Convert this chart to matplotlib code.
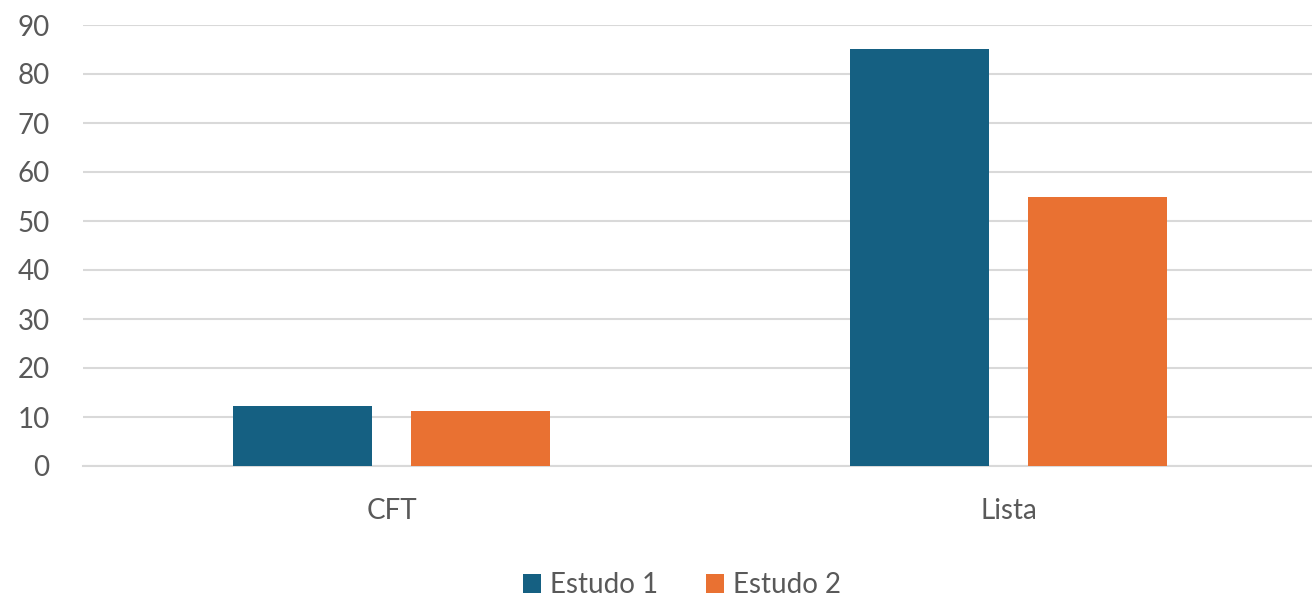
import matplotlib.pyplot as plt
import numpy as np

categories = ['CFT', 'Lista']
series_names = ['Estudo 1', 'Estudo 2']
estudo1 = [12.3, 85.2]
estudo2 = [11.3, 55.0]
yticks = [0, 10, 20, 30, 40, 50, 60, 70, 80, 90]

plt.rcParams['font.family'] = ['Lato', 'DejaVu Sans']
text_color = '#595959'
grid_color = '#d9d9d9'

fig = plt.figure(figsize=(13.12, 5.99), dpi=100)
ax = fig.add_axes([83 / 1312, 1 - 466 / 599, (1317 - 83) / 1312, (466 - 25) / 599])

x = np.arange(len(categories))
width = 0.226
offset = 0.144
ax.bar(x - offset, estudo1, width, color='#156082', label=series_names[0], zorder=3)
ax.bar(x + offset, estudo2, width, color='#E97132', label=series_names[1], zorder=3)

ax.set_xlim(-0.5, 1.5)
ax.set_ylim(0, 90)
ax.set_yticks(yticks)
ax.set_xticks(x)
ax.set_xticklabels(categories)
ax.grid(axis='y', color=grid_color, linewidth=1.5, zorder=0)

for side in ['top', 'right', 'left']:
    ax.spines[side].set_visible(False)
ax.spines['bottom'].set_color(grid_color)
ax.spines['bottom'].set_linewidth(1.5)

ax.tick_params(axis='both', length=0, labelsize=20, colors=text_color)
ax.tick_params(axis='y', pad=24)
ax.tick_params(axis='x', pad=23)

leg = fig.legend(loc='center', bbox_to_anchor=(682 / 1312, 1 - 585 / 599), ncol=2,
                 frameon=False, fontsize=20, handlelength=0.65, handleheight=0.65,
                 handletextpad=0.35, columnspacing=1.7)
for t in leg.get_texts():
    t.set_color(text_color)

fig.savefig('out.png', dpi=100)
